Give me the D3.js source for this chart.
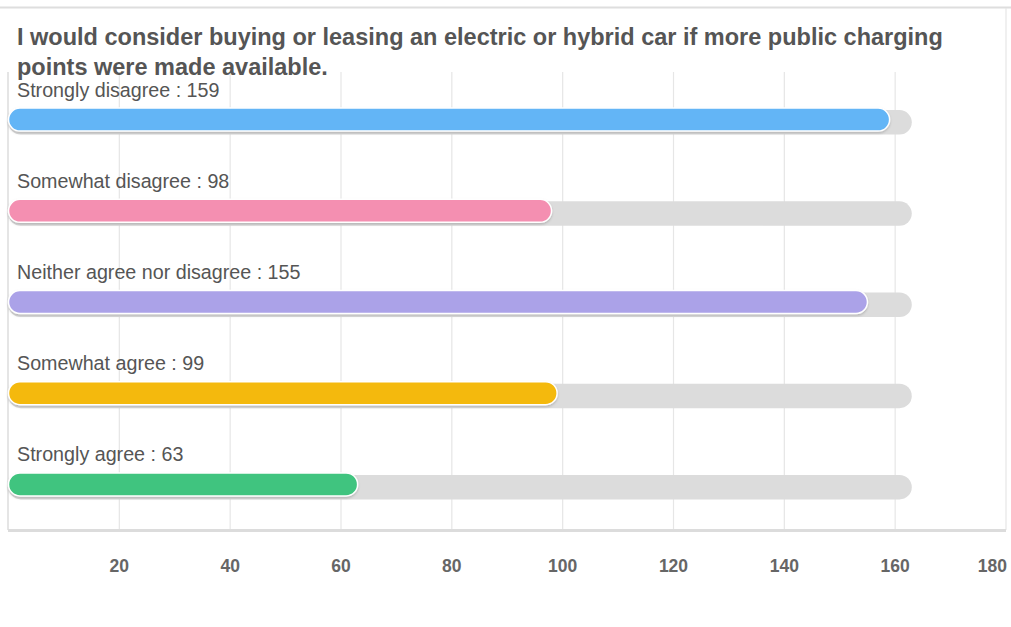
<!DOCTYPE html>
<html>
<head>
<meta charset="utf-8">
<script src="https://cdn.jsdelivr.net/npm/d3@7"></script>
<style>
  body { margin: 0; background: #fff; }
  svg { display: block; font-family: "Liberation Sans", Arial, sans-serif; }
</style>
</head>
<body>
<div id="chart"></div>
<script>
// Data
const titleLines = [
    "I would consider buying or leasing an electric or hybrid car if more public charging",
    "points were made available."
];
const categories = ["Strongly disagree", "Somewhat disagree", "Neither agree nor disagree", "Somewhat agree", "Strongly agree"];
const counts = [159, 98, 155, 99, 63];
const trackMax = 163;
const barColors = ["#64b5f6", "#f48fb1", "#aba2e8", "#f4b90f", "#41c47f"];
const tickValues = [20, 40, 60, 80, 100, 120, 140, 160, 180];

const width = 1011, height = 627;
const svg = d3.select("#chart").append("svg")
    .attr("width", width)
    .attr("height", height);

// drop shadow for coloured bars
const defs = svg.append("defs");
const shadow = defs.append("filter").attr("id", "barShadow")
    .attr("x", "-5%").attr("y", "-30%").attr("width", "110%").attr("height", "180%");
shadow.append("feDropShadow")
    .attr("dx", 0).attr("dy", 1.5).attr("stdDeviation", 0.8)
    .attr("flood-color", "#000").attr("flood-opacity", 0.18);

// page border on top
svg.append("line")
    .attr("x1", 0).attr("x2", width).attr("y1", 7.5).attr("y2", 7.5)
    .attr("stroke", "#dedede").attr("stroke-width", 2);

const x = d3.scaleLinear().domain([0, 180]).range([8.5, 1006]);
const y = d3.scaleBand().domain(categories).range([74, 530]);

const plotTop = 72, plotBottom = 530;

// vertical gridlines
svg.append("g").selectAll("line")
    .data(tickValues)
    .join("line")
    .attr("x1", d => x(d)).attr("x2", d => x(d))
    .attr("y1", d => d === 180 ? 8 : plotTop)
    .attr("y2", plotBottom)
    .attr("stroke", "#e6e6e6").attr("stroke-width", 1.2);

// left axis line
svg.append("line")
    .attr("x1", 8).attr("x2", 8).attr("y1", plotTop).attr("y2", plotBottom)
    .attr("stroke", "#dddddd").attr("stroke-width", 1.5);

// bottom axis line
svg.append("line")
    .attr("x1", 8).attr("x2", 1006).attr("y1", 530.5).attr("y2", 530.5)
    .attr("stroke", "#dcdcdc").attr("stroke-width", 3);

// tick labels
svg.append("g").selectAll("text")
    .data(tickValues)
    .join("text")
    .attr("x", d => d === 180 ? 1007 : x(d))
    .attr("y", 572)
    .attr("text-anchor", d => d === 180 ? "end" : "middle")
    .attr("font-size", 17.5)
    .attr("font-weight", "bold")
    .attr("fill", "#666")
    .text(d => d);

const barH = 23;
const rows = svg.append("g").selectAll("g")
    .data(categories)
    .join("g")
    .attr("transform", d => "translate(0," + (y(d) + y.bandwidth() / 2) + ")");

// grey track
rows.append("rect")
    .attr("x", x(0))
    .attr("y", -barH / 2 + 2)
    .attr("width", x(trackMax) - x(0))
    .attr("height", barH + 1.5)
    .attr("rx", (barH + 1.5) / 2)
    .attr("fill", "#dcdcdc");

// coloured bar
rows.append("rect")
    .attr("x", x(0))
    .attr("y", -barH / 2)
    .attr("width", (d, i) => x(counts[i]) - x(0))
    .attr("height", barH)
    .attr("rx", barH / 2)
    .attr("fill", (d, i) => barColors[i])
    .attr("stroke", "#fff")
    .attr("stroke-width", 1.5)
    .attr("filter", "url(#barShadow)");

// labels
rows.append("text")
    .attr("x", 17)
    .attr("y", -23)
    .attr("font-size", 19.7)
    .attr("fill", "#555")
    .text((d, i) => d + " : " + counts[i]);

// title
svg.append("g").selectAll("text")
    .data(titleLines)
    .join("text")
    .attr("x", 17)
    .attr("y", (d, i) => 45 + i * 30)
    .attr("font-size", 23.5)
    .attr("font-weight", "bold")
    .attr("fill", "#555")
    .text(d => d);
</script>
</body>
</html>
